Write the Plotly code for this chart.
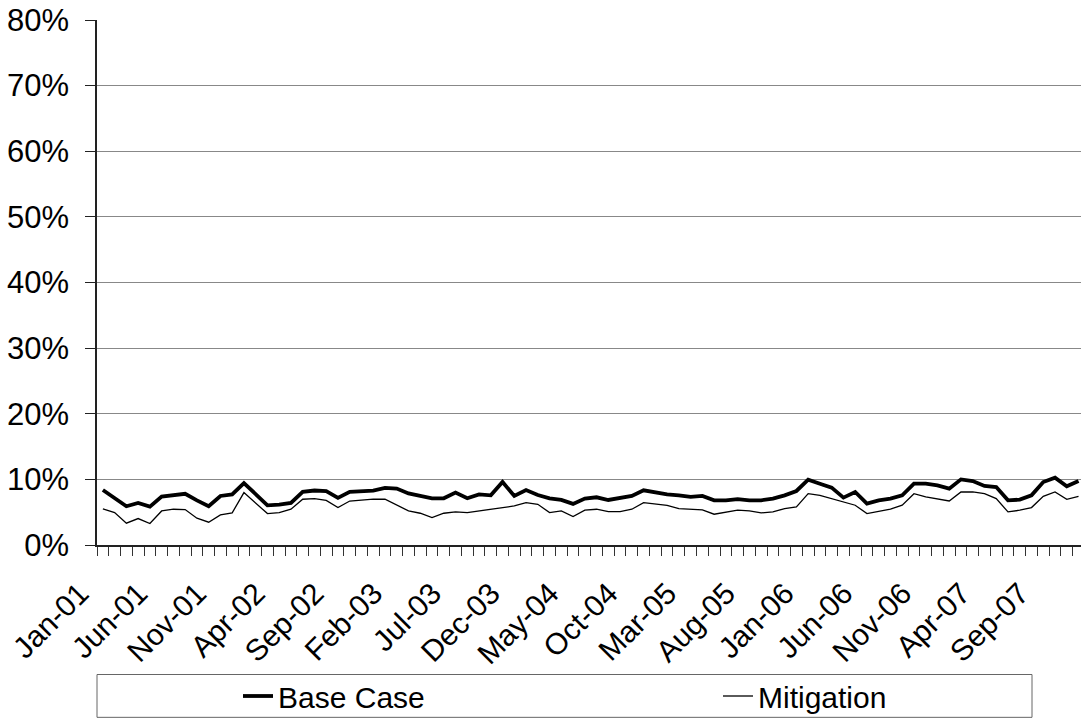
import plotly.graph_objects as go

month_names = ["Jan", "Feb", "Mar", "Apr", "May", "Jun",
               "Jul", "Aug", "Sep", "Oct", "Nov", "Dec"]
year_suffixes = ["01", "02", "03", "04", "05", "06", "07"]
month_labels = [f"{m}-{y}" for y in year_suffixes for m in month_names]
label_step = 5

# values in percent
base_case = [
    8.38, 7.2, 5.9, 6.4, 5.85, 7.37, 7.6, 7.8, 6.8, 5.9,
    7.47, 7.7, 9.44, 7.7, 6.05, 6.15, 6.4, 8.1, 8.3, 8.2,
    7.17, 8.1, 8.2, 8.3, 8.7, 8.6, 7.85, 7.55, 7.12, 7.12,
    7.98, 7.12, 7.72, 7.57, 9.6, 7.47, 8.38, 7.62, 7.12, 6.86,
    6.26, 7.07, 7.27, 6.86, 7.12, 7.47, 8.33, 7.98, 7.72, 7.57,
    7.32, 7.47, 6.81, 6.81, 7.0, 6.81, 6.81, 7.07, 7.57, 8.23,
    9.95, 9.34, 8.74, 7.22, 8.08, 6.31, 6.81, 7.07, 7.57, 9.34,
    9.34, 9.09, 8.58, 10.0, 9.75, 8.99, 8.84, 6.81, 6.91, 7.57,
    9.6, 10.25, 8.94, 9.75,
]
mitigation = [
    5.5, 4.94, 3.32, 4.03, 3.27, 5.19, 5.45, 5.4, 4.08, 3.47,
    4.59, 4.9, 7.98, 6.46, 4.79, 4.94, 5.45, 6.97, 7.07, 6.8,
    5.7, 6.7, 6.9, 7.0, 6.97, 6.1, 5.2, 4.84, 4.18, 4.84,
    5.04, 4.94, 5.19, 5.45, 5.8, 5.95, 6.46, 6.2, 4.94, 5.19,
    4.33, 5.3, 5.45, 5.09, 5.09, 5.45, 6.46, 6.2, 6.05, 5.55,
    5.45, 5.35, 4.69, 4.94, 5.3, 5.19, 4.89, 5.04, 5.55, 5.8,
    7.82, 7.57, 7.07, 6.56, 6.06, 4.79, 5.14, 5.45, 6.06, 7.82,
    7.32, 7.07, 6.71, 8.08, 8.08, 7.82, 7.07, 5.04, 5.3, 5.7,
    7.42, 8.08, 6.97, 7.42,
]

x_idx = list(range(len(month_labels)))

W, H = 1081, 722
ML, MR, MT, MB = 97, 0, 20, 175
pw = W - ML - MR
ph = H - MT - MB


def px_x(p):
    return (p - ML) / pw


def px_y(p):
    return (MT + ph - p) / ph


fig = go.Figure()
fig.add_trace(go.Scatter(x=x_idx, y=base_case, mode="lines", name="Base Case",
                         line=dict(color="black", width=3.8),
                         legend="legend", showlegend=True))
fig.add_trace(go.Scatter(x=x_idx, y=mitigation, mode="lines", name="Mitigation",
                         line=dict(color="black", width=1.3),
                         legend="legend2", showlegend=True))

legend_common = dict(orientation="h", xanchor="left", yanchor="middle",
                     y=px_y(699), font=dict(size=30), borderwidth=0,
                     bgcolor="rgba(0,0,0,0)")

fig.update_layout(
    width=W, height=H,
    showlegend=True,
    margin=dict(l=ML, r=MR, t=MT, b=MB, pad=0),
    paper_bgcolor="white", plot_bgcolor="white",
    font=dict(family="Arial, 'Liberation Sans', sans-serif", color="black"),
    xaxis=dict(
        range=[-0.5, 83.21],
        tickmode="array",
        tickvals=x_idx[::label_step],
        ticktext=month_labels[::label_step],
        tickangle=-45,
        ticks="",
        ticklabelshift=-23,
        ticklabelstandoff=17,
        showgrid=False, zeroline=False,
        showline=True, linecolor="#222", linewidth=1.5,
        tickfont=dict(size=30),
        minor=dict(ticks="outside", ticklen=9, tick0=0.5, dtick=1,
                   tickcolor="#333", tickwidth=1, showgrid=False),
    ),
    yaxis=dict(
        range=[0, 80], dtick=10, ticksuffix="%",
        ticks="outside", ticklen=10, tickcolor="#222",
        ticklabelstandoff=10,
        showline=True, linecolor="#222", linewidth=1.5,
        showgrid=True, gridcolor="#888", gridwidth=1,
        zeroline=False,
        tickfont=dict(size=31),
    ),
    legend=dict(x=px_x(238), **legend_common),
    legend2=dict(x=px_x(718), **legend_common),
    shapes=[dict(type="rect", xref="paper", yref="paper",
                 x0=0, x1=px_x(1032),
                 y0=px_y(720), y1=px_y(677),
                 line=dict(color="#666", width=1), layer="below")],
)

fig.write_html("out.html")
